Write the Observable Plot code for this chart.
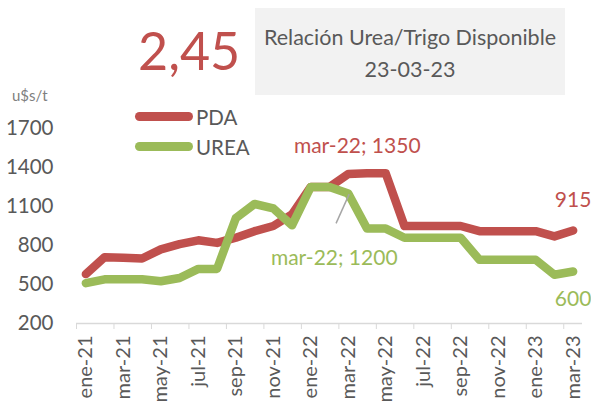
<!DOCTYPE html>
<html><head><meta charset="utf-8">
<script src="https://cdn.jsdelivr.net/npm/d3@7"></script>
<script src="https://cdn.jsdelivr.net/npm/@observablehq/plot@0.6"></script>
<style>
body{margin:0;background:#fff;}
#wrap{position:relative;width:591px;height:410px;font-family:Lato, sans-serif;color:#595959;overflow:hidden;background:#fff}
.abs{position:absolute;white-space:nowrap}
#chart{position:absolute;left:0;top:0}
</style></head><body>
<div id="wrap">
  <div class="abs" style="left:255px;top:8px;width:310px;height:87px;background:#f2f2f2"></div>
  <div class="abs" style="left:255px;top:21px;width:310px;text-align:center;font-size:21.5px;line-height:32px;color:#595959">Relación Urea/Trigo Disponible<br>23-03-23</div>
  <div class="abs" style="left:138px;top:18px;font-size:52px;line-height:64px;color:#C0504D">2,45</div>
  <div class="abs" style="left:12px;top:86px;font-size:15px;line-height:18px;color:#7f7f7f">u$s/t</div>
  <div class="abs" style="left:135px;top:112px;width:58px;height:9px;border-radius:5px;background:#C0504D"></div>
  <div class="abs" style="left:196px;top:105px;font-size:20.5px;line-height:24px">PDA</div>
  <div class="abs" style="left:135px;top:142px;width:58px;height:9px;border-radius:5px;background:#9BBB59"></div>
  <div class="abs" style="left:196px;top:135px;font-size:20.5px;line-height:24px">UREA</div>
  <div id="chart"></div>
</div>
<script>
const months = ["ene-21","feb-21","mar-21","abr-21","may-21","jun-21","jul-21","ago-21","sep-21","oct-21","nov-21","dic-21",
                "ene-22","feb-22","mar-22","abr-22","may-22","jun-22","jul-22","ago-22","sep-22","oct-22","nov-22","dic-22",
                "ene-23","feb-23","mar-23"];
const pda  = [580,710,705,700,770,810,840,820,860,910,950,1040,
              1250,1250,1350,1355,1355,950,950,950,950,910,910,910,
              910,870,915];
const urea = [510,540,540,540,525,550,620,620,1010,1120,1085,955,
              1250,1250,1200,930,930,860,860,860,860,690,690,690,
              690,575,600];
const yTicks = [200,500,800,1100,1400,1700];
const labelTicks = d3.range(0, 27, 2);
const boundaryTicks = d3.range(-0.5, 26, 2);

const RED = "#C0504D", GREEN = "#9BBB59";
const pdaData = pda.map((v,i)=>({i, v}));
const ureaData = urea.map((v,i)=>({i, v}));

const iMar22 = months.indexOf("mar-22");
const iLast = months.length - 1;
const leader = [{x1: iMar22 + 0.05, y1: urea[iMar22] - 5, x2: iMar22 - 0.65, y2: urea[iMar22] - 230}];

function label(i, arr, text, color, dx, dy) {
  return Plot.text([{i, v: arr[i], text}], {x: "i", y: "v", text: "text", fill: color, dx, dy, fontSize: 21});
}

const chart = Plot.plot({
  width: 591, height: 410,
  marginLeft: 76, marginRight: 9, marginTop: 128, marginBottom: 87,
  style: {fontFamily: "Lato, sans-serif", fontSize: "20px", color: "#595959", background: "transparent", overflow: "visible"},
  x: {type: "linear", domain: [-0.5, 26.5]},
  y: {domain: [200, 1700]},
  marks: [
    Plot.ruleY([200], {stroke: "#d9d9d9", strokeWidth: 1.3}),
    Plot.axisX(boundaryTicks, {tickSize: 6, stroke: "#d9d9d9", tickFormat: () => ""}),
    Plot.axisX(labelTicks, {tickSize: 0, tickPadding: 12, tickRotate: -90, tickFormat: i => months[i], fontSize: 20, label: null}),
    Plot.axisY(yTicks, {tickSize: 0, tickPadding: 23, fontSize: 20.5, label: null, tickFormat: d => String(d)}),
    Plot.lineY(pdaData, {x: "i", y: "v", stroke: RED, strokeWidth: 8.5, strokeLinejoin: "round", strokeLinecap: "round"}),
    Plot.lineY(ureaData, {x: "i", y: "v", stroke: GREEN, strokeWidth: 8.5, strokeLinejoin: "round", strokeLinecap: "round"}),
    Plot.link(leader, {x1: "x1", y1: "y1", x2: "x2", y2: "y2", stroke: "#a6a6a6", strokeWidth: 1.5}),
    label(iMar22, pda, `${months[iMar22]}; ${pda[iMar22]}`, RED, 9, -28),
    label(iMar22, urea, `${months[iMar22]}; ${urea[iMar22]}`, GREEN, -14, 65),
    label(iLast, pda, `${pda[iLast]}`, RED, 0, -30),
    label(iLast, urea, `${urea[iLast]}`, GREEN, 0, 28)
  ]
});
document.getElementById("chart").appendChild(chart);
</script>
</body></html>
